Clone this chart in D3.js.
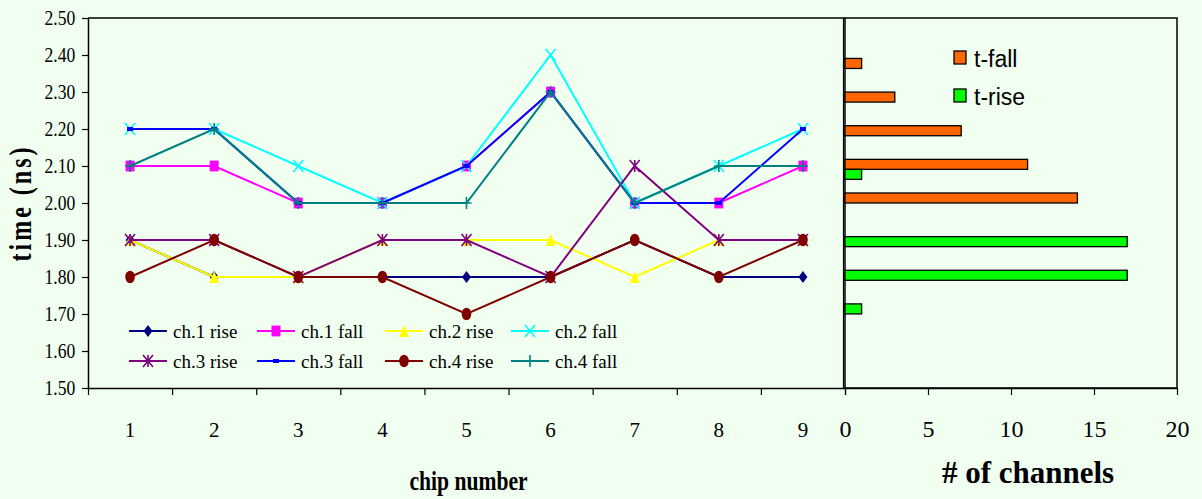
<!DOCTYPE html>
<html>
<head>
<meta charset="utf-8">
<script src="https://cdn.jsdelivr.net/npm/d3@7"></script>
<style>
  html, body { margin: 0; padding: 0; background: #F0FFF0; }
  svg { display: block; }
  text { fill: #000; }
</style>
</head>
<body>
<svg id="chart" width="1202" height="499"></svg>
<script>
// ---------- data ----------
const chips = [1, 2, 3, 4, 5, 6, 7, 8, 9];
const ch1Rise = [1.9, 1.8, 1.8, 1.8, 1.8, 1.8, 1.9, 1.8, 1.8];
const ch1Fall = [2.1, 2.1, 2.0, 2.0, 2.1, 2.3, 2.0, 2.0, 2.1];
const ch2Rise = [1.9, 1.8, 1.8, 1.9, 1.9, 1.9, 1.8, 1.9, 1.9];
const ch2Fall = [2.2, 2.2, 2.1, 2.0, 2.1, 2.4, 2.0, 2.1, 2.2];
const ch3Rise = [1.9, 1.9, 1.8, 1.9, 1.9, 1.8, 2.1, 1.9, 1.9];
const ch3Fall = [2.2, 2.2, 2.0, 2.0, 2.1, 2.3, 2.0, 2.0, 2.2];
const ch4Rise = [1.8, 1.9, 1.8, 1.8, 1.7, 1.8, 1.9, 1.8, 1.9];
const ch4Fall = [2.1, 2.2, 2.0, 2.0, 2.0, 2.3, 2.0, 2.1, 2.1];
const seriesNames = ["ch.1 rise", "ch.1 fall", "ch.2 rise", "ch.2 fall",
                     "ch.3 rise", "ch.3 fall", "ch.4 rise", "ch.4 fall"];
const timeTicks = [1.5, 1.6, 1.7, 1.8, 1.9, 2.0, 2.1, 2.2, 2.3, 2.4, 2.5];

const timeBins = ["2.50", "2.40", "2.30", "2.20", "2.10", "2.00", "1.90", "1.80", "1.70", "1.60", "1.50"];
const tFall = [0, 1, 3, 7, 11, 14, 0, 0, 0, 0, 0];
const tRise = [0, 0, 0, 0, 1, 0, 17, 17, 1, 0, 0];
const countTicks = [0, 5, 10, 15, 20];
const barNames = ["t-fall", "t-rise"];

// ---------- styles ----------
const seriesData = [ch1Rise, ch1Fall, ch2Rise, ch2Fall, ch3Rise, ch3Fall, ch4Rise, ch4Fall];
const seriesColors = ["#000080", "#FF00FF", "#FFFF00", "#00FFFF", "#800080", "#0000FF", "#800000", "#008080"];
const seriesMarkers = ["diamond", "square", "triangle", "x", "star", "dash", "circle", "plus"];
const barColors = ["#FF6600", "#00FF00"];
const serif = "'Liberation Serif', 'Times New Roman', serif";
const sans = "'Liberation Sans', Arial, sans-serif";

const svg = d3.select("#chart");

// ---------- left line chart ----------
const L = { left: 88, right: 845, top: 18, bottom: 388 };
const x = d3.scaleBand().domain(chips).range([L.left, L.right]);
const xEdge = d3.scaleLinear().domain([0, chips.length]).range([L.left, L.right]);
const y = d3.scaleLinear().domain([1.5, 2.5]).range([L.bottom, L.top]);

svg.append("line").attr("x1", L.left).attr("x2", L.right).attr("y1", L.top).attr("y2", L.top)
  .attr("stroke", "#000").attr("stroke-width", 1.5);

// y axis
const yAx = svg.append("g").attr("transform", `translate(${L.left},0)`)
  .call(d3.axisLeft(y).tickValues(timeTicks).tickFormat(d3.format(".2f")).tickSize(6).tickSizeOuter(0));
yAx.select(".domain").attr("stroke-width", 1.5);
yAx.selectAll(".tick line").attr("stroke-width", 1.2);
yAx.selectAll("text").attr("font-family", serif).attr("font-size", 20).attr("x", -14.5)
  .attr("dy", "0.34em").attr("transform", "scale(0.88,1)").attr("fill", "#000");

// x axis: tick marks at band edges
const xTickAx = svg.append("g").attr("transform", `translate(0,${L.bottom})`)
  .call(d3.axisBottom(xEdge).tickValues(d3.range(0, chips.length + 1)).tickFormat("").tickSize(7).tickSizeOuter(0));
xTickAx.select(".domain").attr("stroke-width", 1.5);
xTickAx.selectAll(".tick line").attr("stroke-width", 1.2);
// x axis: labels at band centres
const xLab = svg.append("g").attr("transform", `translate(0,${L.bottom})`)
  .call(d3.axisBottom(x).tickSize(0));
xLab.select(".domain").remove();
xLab.selectAll("text").attr("font-family", serif).attr("font-size", 21).attr("y", 49).attr("dy", 0).attr("fill", "#000");

// markers
function drawMarker(g, type, color, cx, cy) {
  const w = 10, h = 12;
  if (type === "circle") {
    g.append("ellipse").attr("cx", cx).attr("cy", cy).attr("rx", 4.8).attr("ry", 6.2).attr("fill", color);
  } else if (type === "x" || type === "star" || type === "plus") {
    let d = "";
    if (type !== "plus") d += `M${cx - w/2},${cy - h/2}L${cx + w/2},${cy + h/2}M${cx + w/2},${cy - h/2}L${cx - w/2},${cy + h/2}`;
    if (type !== "x") d += `M${cx},${cy - h/2}L${cx},${cy + h/2}`;
    if (type === "plus") d += `M${cx - w/2},${cy}L${cx + w/2},${cy}`;
    g.append("path").attr("d", d).attr("stroke", color).attr("stroke-width", 1.6).attr("fill", "none");
  } else {
    const mw = 9, mh = 12;
    let d;
    if (type === "diamond") d = `M0,${-mh/2}L${mw/2},0L0,${mh/2}L${-mw/2},0Z`;
    else if (type === "square") d = `M${-mw/2},${-mh*0.45}H${mw/2}V${mh*0.45}H${-mw/2}Z`;
    else if (type === "triangle") d = `M0,${-mh/2}L${mw*0.55},${mh/2}L${-mw*0.55},${mh/2}Z`;
    else d = `M-3,-2H3V2H-3Z`;
    g.append("path").attr("d", d).attr("transform", `translate(${cx},${cy})`).attr("fill", color);
  }
}

const line = d3.line().x((d, i) => x(chips[i]) + x.bandwidth() / 2).y(d => y(d));
seriesData.forEach((vals, k) => {
  const g = svg.append("g");
  g.append("path").attr("d", line(vals)).attr("fill", "none")
    .attr("stroke", seriesColors[k]).attr("stroke-width", 2);
  vals.forEach((v, i) => drawMarker(g, seriesMarkers[k], seriesColors[k], x(chips[i]) + x.bandwidth() / 2, y(v)));
});

// legend for lines
const legCols = [129, 257, 385, 511];
const legRows = [331, 361];
seriesNames.forEach((name, k) => {
  const lx = legCols[k % 4], ly = legRows[Math.floor(k / 4)];
  const g = svg.append("g");
  g.append("line").attr("x1", lx).attr("x2", lx + 38).attr("y1", ly).attr("y2", ly)
    .attr("stroke", seriesColors[k]).attr("stroke-width", 2);
  drawMarker(g, seriesMarkers[k], seriesColors[k], lx + 19, ly);
  g.append("text").attr("x", lx + 44).attr("y", ly + 7).attr("font-family", serif)
    .attr("font-size", 19).text(name);
});

// y label
svg.append("text").attr("transform", "translate(31,203) rotate(-90) scale(0.75,1)")
  .attr("text-anchor", "middle").attr("font-family", serif).attr("font-weight", "bold")
  .attr("font-size", 32).attr("letter-spacing", 4).text("time (ns)");
// x label
svg.append("text").attr("transform", `translate(${(L.left + L.right) / 2 + 2},490) scale(0.8,1)`)
  .attr("text-anchor", "middle").attr("font-family", serif).attr("font-weight", "bold")
  .attr("font-size", 27).text("chip number");

// ---------- right bar chart ----------
const R = { left: 845, right: 1177, top: 18, bottom: 388 };
const xc = d3.scaleLinear().domain([0, 20]).range([R.left, R.right]);
const yb = d3.scaleBand().domain(timeBins).range([R.top, R.bottom]);
const ysub = d3.scaleBand().domain(barNames).range([0, yb.bandwidth()]).paddingOuter(0.68).paddingInner(0);

svg.append("rect").attr("x", R.left).attr("y", R.top).attr("width", R.right - R.left).attr("height", R.bottom - R.top)
  .attr("fill", "none").attr("stroke", "#000").attr("stroke-width", 1.5);
svg.append("line").attr("x1", R.left - 1.5).attr("x2", R.left - 1.5).attr("y1", R.top).attr("y2", R.bottom)
  .attr("stroke", "#000").attr("stroke-width", 1.2);

const cAx = svg.append("g").attr("transform", `translate(0,${R.bottom})`)
  .call(d3.axisBottom(xc).tickValues(countTicks).tickSize(7).tickSizeOuter(0));
cAx.select(".domain").attr("stroke-width", 1.5);
cAx.selectAll(".tick line").attr("stroke-width", 1.2);
cAx.selectAll("text").attr("font-family", serif).attr("font-size", 24).attr("y", 49).attr("dy", 0).attr("fill", "#000");

[tFall, tRise].forEach((vals, k) => {
  svg.append("g").selectAll("rect").data(vals.map((v, i) => ({ v, bin: timeBins[i] })).filter(d => d.v > 0))
    .join("rect")
    .attr("x", xc(0)).attr("y", d => yb(d.bin) + ysub(barNames[k]))
    .attr("width", d => xc(d.v) - xc(0)).attr("height", ysub.bandwidth())
    .attr("fill", barColors[k]).attr("stroke", "#000").attr("stroke-width", 1.3);
});

// bar legend
const bLegY = [51, 89];
barNames.forEach((name, k) => {
  svg.append("rect").attr("x", 954).attr("y", bLegY[k]).attr("width", 12).attr("height", 13)
    .attr("fill", barColors[k]).attr("stroke", "#000").attr("stroke-width", 1.3);
  svg.append("text").attr("x", 974).attr("y", bLegY[k] + 16).attr("font-family", sans)
    .attr("font-size", 23).text(name);
});

svg.append("text").attr("x", 1028).attr("y", 483).attr("text-anchor", "middle")
  .attr("font-family", serif).attr("font-weight", "bold").attr("font-size", 31).text("# of channels");
</script>
</body>
</html>
